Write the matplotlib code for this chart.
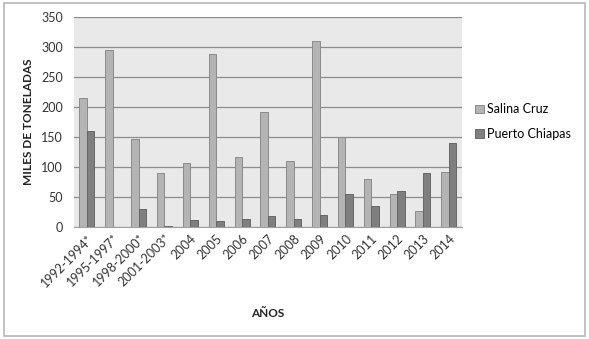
import matplotlib
matplotlib.use("Agg")
import matplotlib.pyplot as plt
import numpy as np
from matplotlib.patches import Rectangle

categories = ["1992-1994*", "1995-1997*", "1998-2000*", "2001-2003*", "2004", "2005",
              "2006", "2007", "2008", "2009", "2010", "2011", "2012", "2013", "2014"]
salina_cruz = [214, 294, 147, 90, 106, 287, 116, 191, 110, 310, 150, 80, 55, 26, 91]
puerto_chiapas = [160, 0, 30, 1, 12, 9, 13, 18, 13, 19, 55, 35, 60, 90, 140]
yticks = [0, 50, 100, 150, 200, 250, 300, 350]

plt.rcParams['font.family'] = ['Lato', 'DejaVu Sans']

fig = plt.figure(figsize=(5.89, 3.39), dpi=100)
fig.patches.append(Rectangle((0.006, 0.01), 0.988, 0.98, transform=fig.transFigure,
                             fill=False, edgecolor='#b8b8b8', linewidth=1.2))
ax = fig.add_axes([0.1256, 0.331, 0.6584, 0.620])
ax.set_facecolor('#e9e9e9')

x = np.arange(len(categories))
w = 0.29
ax.bar(x - w/2, salina_cruz, w, color='#b4b4b4', edgecolor='#8a8a8a', linewidth=0.7,
       label='Salina Cruz', zorder=3)
ax.bar(x + w/2, puerto_chiapas, w, color='#7f7f7f', edgecolor='#666666', linewidth=0.7,
       label='Puerto Chiapas', zorder=3)

ax.set_xlim(-0.5, len(categories) - 0.5)
ax.set_ylim(0, 350)
ax.set_yticks(yticks)
ax.yaxis.grid(True, color='#8c8c8c', linewidth=0.9, zorder=1)
ax.set_axisbelow(True)
for s in ['top', 'right', 'left']:
    ax.spines[s].set_visible(False)
ax.spines['bottom'].set_color('#a0a0a0')
ax.tick_params(axis='both', length=0, labelsize=9, colors='#333333')
ax.set_xticks(x)
ax.set_xticklabels(categories, rotation=45, ha='right', rotation_mode='anchor')
ax.tick_params(axis='x', pad=4)
ax.tick_params(axis='y', pad=8)

ax.set_ylabel('MILES DE TONELADAS', fontsize=8.5, fontweight='bold', color='#222222', labelpad=5)
ax.set_xlabel('AÑOS', fontsize=8.5, fontweight='bold', color='#222222', labelpad=14)

ax.legend(loc='center left', bbox_to_anchor=(1.005, 0.5), frameon=False, fontsize=9,
          handlelength=0.7, handleheight=0.7, handletextpad=0.3, labelspacing=1.0)

fig.savefig('out.png', dpi=100)
